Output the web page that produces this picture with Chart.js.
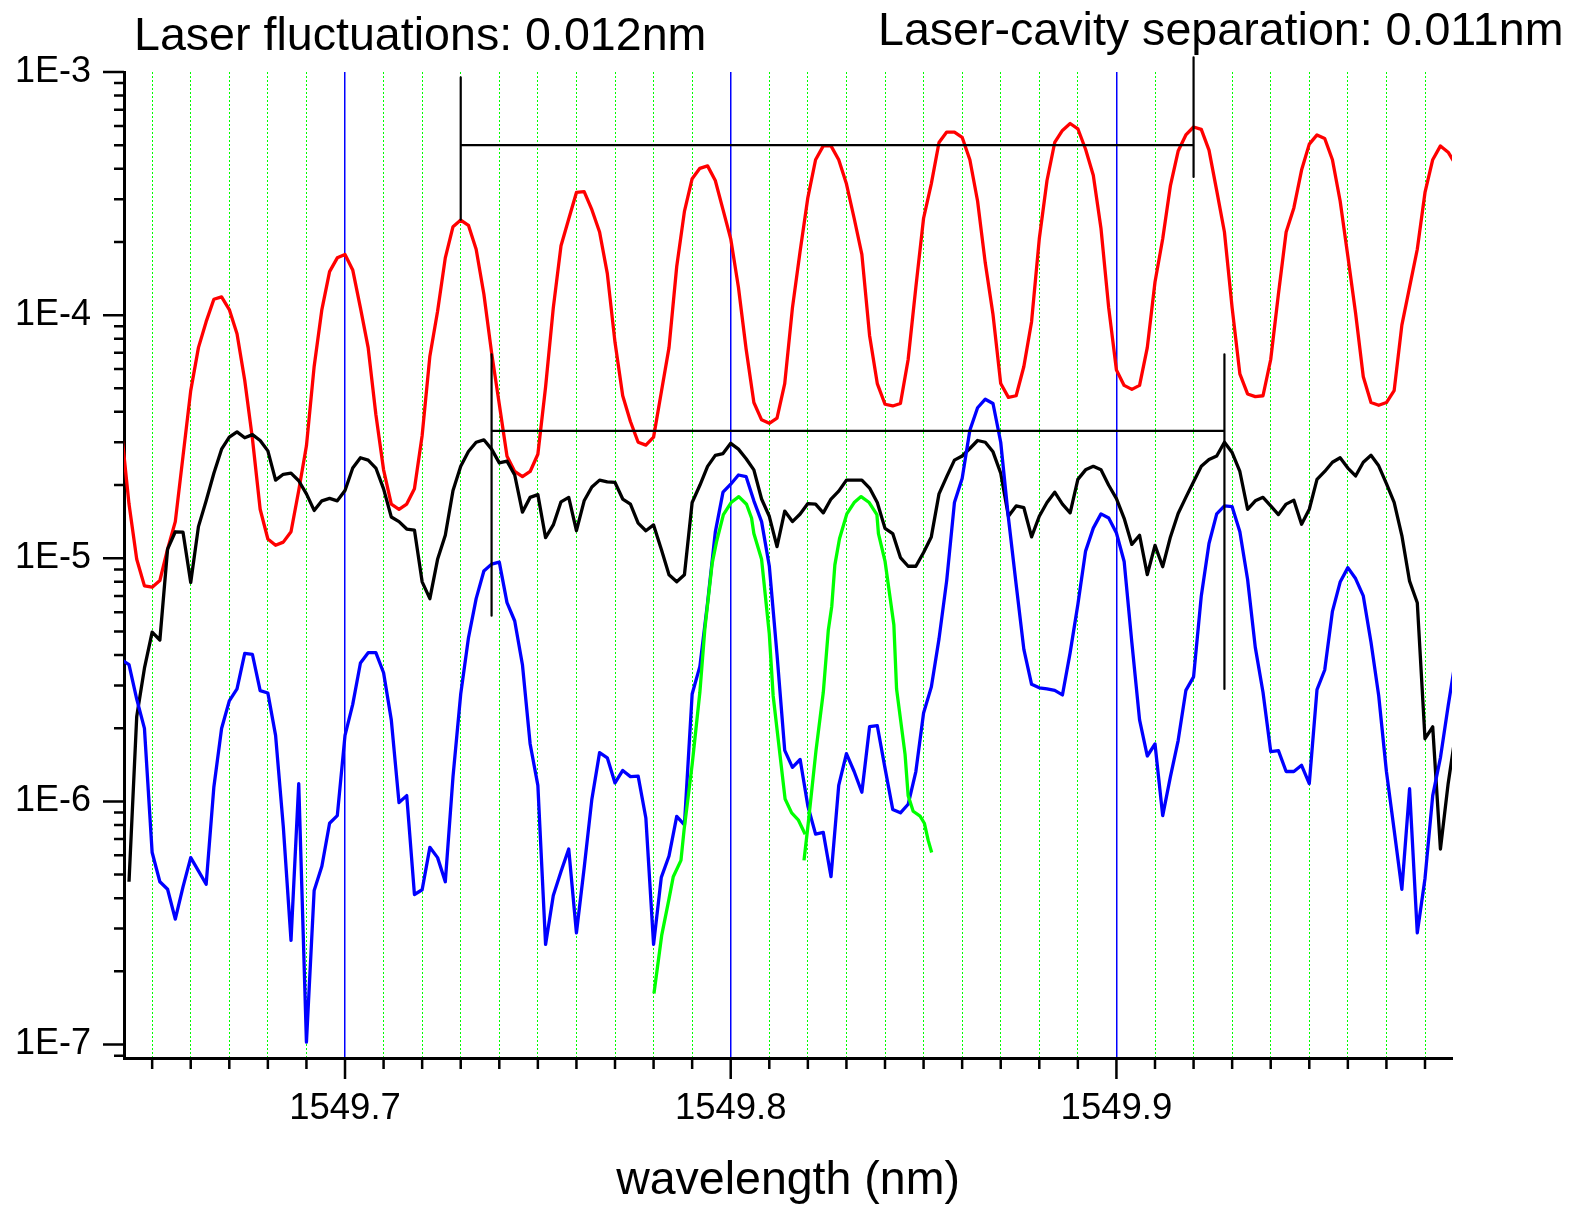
<!DOCTYPE html>
<html>
<head>
<meta charset="utf-8">
<script src="https://cdn.jsdelivr.net/npm/chart.js@4.4.1/dist/chart.umd.min.js"></script>
<style>
      html, body { margin: 0; padding: 0; background: #ffffff; }
      #wrap { width: 1573px; height: 1206px; position: relative; }
</style>
</head>
<body>
<div id="wrap"><canvas id="spectrum"></canvas></div>
<script>
// wavelength grid shared by the red, black and blue traces (nm)
let wavelength = [
      1549.642, 1549.644, 1549.646, 1549.648, 1549.650, 1549.652, 1549.654, 1549.656, 1549.658, 1549.660,
      1549.662, 1549.664, 1549.666, 1549.668, 1549.670, 1549.672, 1549.674, 1549.676, 1549.678, 1549.680,
      1549.682, 1549.684, 1549.686, 1549.688, 1549.690, 1549.692, 1549.694, 1549.696, 1549.698, 1549.700,
      1549.702, 1549.704, 1549.706, 1549.708, 1549.710, 1549.712, 1549.714, 1549.716, 1549.718, 1549.720,
      1549.722, 1549.724, 1549.726, 1549.728, 1549.730, 1549.732, 1549.734, 1549.736, 1549.738, 1549.740,
      1549.742, 1549.744, 1549.746, 1549.748, 1549.750, 1549.752, 1549.754, 1549.756, 1549.758, 1549.760,
      1549.762, 1549.764, 1549.766, 1549.768, 1549.770, 1549.772, 1549.774, 1549.776, 1549.778, 1549.780,
      1549.782, 1549.784, 1549.786, 1549.788, 1549.790, 1549.792, 1549.794, 1549.796, 1549.798, 1549.800,
      1549.802, 1549.804, 1549.806, 1549.808, 1549.810, 1549.812, 1549.814, 1549.816, 1549.818, 1549.820,
      1549.822, 1549.824, 1549.826, 1549.828, 1549.830, 1549.832, 1549.834, 1549.836, 1549.838, 1549.840,
      1549.842, 1549.844, 1549.846, 1549.848, 1549.850, 1549.852, 1549.854, 1549.856, 1549.858, 1549.860,
      1549.862, 1549.864, 1549.866, 1549.868, 1549.870, 1549.872, 1549.874, 1549.876, 1549.878, 1549.880,
      1549.882, 1549.884, 1549.886, 1549.888, 1549.890, 1549.892, 1549.894, 1549.896, 1549.898, 1549.900,
      1549.902, 1549.904, 1549.906, 1549.908, 1549.910, 1549.912, 1549.914, 1549.916, 1549.918, 1549.920,
      1549.922, 1549.924, 1549.926, 1549.928, 1549.930, 1549.932, 1549.934, 1549.936, 1549.938, 1549.940,
      1549.942, 1549.944, 1549.946, 1549.948, 1549.950, 1549.952, 1549.954, 1549.956, 1549.958, 1549.960,
      1549.962, 1549.964, 1549.966, 1549.968, 1549.970, 1549.972, 1549.974, 1549.976, 1549.978, 1549.980,
      1549.982, 1549.984, 1549.986, 1549.988
];

let redTrace = [
      3.40e-5, 1.67e-5, 9.9e-6, 7.7e-6, 7.6e-6, 8.1e-6, 1.09e-5, 1.415e-5, 2.63e-5, 4.89e-5,
      7.35e-5, 9.4e-5, 1.162e-4, 1.189e-4, 1.054e-4, 8.39e-5, 5.40e-5, 3.10e-5, 1.59e-5, 1.20e-5,
      1.13e-5, 1.165e-5, 1.285e-5, 1.90e-5, 2.90e-5, 6.15e-5, 1.054e-4, 1.51e-4, 1.72e-4, 1.777e-4,
      1.534e-4, 1.071e-4, 7.35e-5, 3.90e-5, 2.31e-5, 1.67e-5, 1.59e-5, 1.67e-5, 1.93e-5, 3.20e-5,
      6.78e-5, 1.037e-4, 1.72e-4, 2.31e-4, 2.46e-4, 2.34e-4, 1.866e-4, 1.221e-4, 7.01e-5, 4.30e-5,
      2.63e-5, 2.275e-5, 2.165e-5, 2.275e-5, 2.677e-5, 5.06e-5, 1.071e-4, 1.928e-4, 2.486e-4, 3.196e-4,
      3.218e-4, 2.715e-4, 2.197e-4, 1.485e-4, 7.73e-5, 4.66e-5, 3.65e-5, 3.00e-5, 2.92e-5, 3.15e-5,
      4.82e-5, 7.35e-5, 1.585e-4, 2.671e-4, 3.64e-4, 4.015e-4, 4.11e-4, 3.58e-4, 2.715e-4, 2.06e-4,
      1.303e-4, 7.24e-5, 4.37e-5, 3.71e-5, 3.59e-5, 3.77e-5, 5.23e-5, 1.071e-4, 1.835e-4, 3.045e-4,
      4.357e-4, 4.966e-4, 4.966e-4, 4.357e-4, 3.467e-4, 2.503e-4, 1.777e-4, 8.25e-5, 5.23e-5, 4.30e-5,
      4.23e-5, 4.33e-5, 6.57e-5, 1.303e-4, 2.503e-4, 3.467e-4, 5.13e-4, 5.66e-4, 5.66e-4, 5.39e-4,
      4.357e-4, 2.947e-4, 1.637e-4, 1.005e-4, 5.23e-5, 4.59e-5, 4.66e-5, 6.15e-5, 9.4e-5, 2.06e-4,
      3.58e-4, 5.13e-4, 5.75e-4, 6.14e-4, 5.84e-4, 4.81e-4, 3.76e-4, 2.27e-4, 1.071e-4, 5.95e-5,
      5.14e-5, 4.95e-5, 5.14e-5, 7.35e-5, 1.368e-4, 2.06e-4, 3.41e-4, 4.73e-4, 5.51e-4, 5.94e-4,
      5.81e-4, 4.77e-4, 3.25e-4, 2.197e-4, 1.071e-4, 5.73e-5, 4.74e-5, 4.62e-5, 4.66e-5, 6.57e-5,
      1.221e-4, 2.197e-4, 2.76e-4, 3.95e-4, 5.05e-4, 5.51e-4, 5.33e-4, 4.357e-4, 2.947e-4, 1.748e-4,
      1.020e-4, 5.58e-5, 4.37e-5, 4.26e-5, 4.37e-5, 4.89e-5, 9.1e-5, 1.303e-4, 1.866e-4, 3.196e-4,
      4.357e-4, 4.966e-4, 4.68e-4, 4.15e-4
];

let blackTrace = [
      null, 4.67e-7, 2.236e-6, 3.53e-6, 4.97e-6, 4.61e-6, 1.09e-5, 1.285e-5, 1.28e-5, 7.95e-6,
      1.349e-5, 1.723e-5, 2.238e-5, 2.81e-5, 3.15e-5, 3.31e-5, 3.13e-5, 3.225e-5, 3.05e-5, 2.765e-5,
      2.096e-5, 2.215e-5, 2.238e-5, 2.083e-5, 1.84e-5, 1.573e-5, 1.723e-5, 1.763e-5, 1.723e-5, 1.90e-5,
      2.35e-5, 2.59e-5, 2.533e-5, 2.35e-5, 1.93e-5, 1.478e-5, 1.415e-5, 1.319e-5, 1.306e-5, 8.0e-6,
      6.82e-6, 9.9e-6, 1.243e-5, 1.90e-5, 2.388e-5, 2.75e-5, 3.0e-5, 3.07e-5, 2.81e-5, 2.467e-5,
      2.508e-5, 2.2e-5, 1.548e-5, 1.78e-5, 1.827e-5, 1.215e-5, 1.371e-5, 1.706e-5, 1.78e-5, 1.298e-5,
      1.723e-5, 1.964e-5, 2.096e-5, 2.062e-5, 2.05e-5, 1.752e-5, 1.67e-5, 1.394e-5, 1.298e-5, 1.371e-5,
      1.09e-5, 8.55e-6, 8.0e-6, 8.55e-6, 1.696e-5, 1.996e-5, 2.388e-5, 2.65e-5, 2.695e-5, 2.97e-5,
      2.81e-5, 2.567e-5, 2.31e-5, 1.752e-5, 1.488e-5, 1.116e-5, 1.563e-5, 1.415e-5, 1.52e-5, 1.679e-5,
      1.67e-5, 1.537e-5, 1.752e-5, 1.888e-5, 2.096e-5, 2.096e-5, 2.096e-5, 1.944e-5, 1.696e-5, 1.327e-5,
      1.264e-5, 1.006e-5, 9.27e-6, 9.27e-6, 1.056e-5, 1.224e-5, 1.84e-5, 2.165e-5, 2.533e-5, 2.634e-5,
      2.828e-5, 3.05e-5, 3.0e-5, 2.74e-5, 2.238e-5, 1.488e-5, 1.641e-5, 1.614e-5, 1.224e-5, 1.488e-5,
      1.696e-5, 1.87e-5, 1.67e-5, 1.537e-5, 2.11e-5, 2.31e-5, 2.388e-5, 2.31e-5, 1.996e-5, 1.76e-5,
      1.46e-5, 1.14e-5, 1.243e-5, 8.56e-6, 1.13e-5, 9.23e-6, 1.224e-5, 1.529e-5, 1.78e-5, 2.062e-5,
      2.388e-5, 2.55e-5, 2.634e-5, 3.0e-5, 2.72e-5, 2.275e-5, 1.59e-5, 1.723e-5, 1.78e-5, 1.641e-5,
      1.513e-5, 1.67e-5, 1.734e-5, 1.38e-5, 1.59e-5, 2.11e-5, 2.275e-5, 2.483e-5, 2.59e-5, 2.35e-5,
      2.18e-5, 2.483e-5, 2.65e-5, 2.40e-5, 2.029e-5, 1.696e-5, 1.24e-5, 8.05e-6, 6.56e-6, 1.81e-6,
      2.027e-6, 6.37e-7, 1.183e-6, 1.93e-6
];

let blueTrace = [
      3.83e-6, 3.65e-6, 2.633e-6, 1.995e-6, 6.16e-7, 4.67e-7, 4.35e-7, 3.28e-7, 4.45e-7, 5.87e-7,
      5.18e-7, 4.56e-7, 1.146e-6, 1.995e-6, 2.59e-6, 2.90e-6, 4.06e-6, 4.02e-6, 2.855e-6, 2.79e-6,
      1.868e-6, 7.87e-7, 2.68e-7, 1.183e-6, 1.022e-7, 4.30e-7, 5.41e-7, 8.13e-7, 8.74e-7, 1.868e-6,
      2.506e-6, 3.71e-6, 4.09e-6, 4.09e-6, 3.38e-6, 2.164e-6, 9.89e-7, 1.056e-6, 4.14e-7, 4.33e-7,
      6.47e-7, 5.87e-7, 4.67e-7, 1.263e-6, 2.764e-6, 4.7e-6, 6.82e-6, 8.86e-6, 9.46e-6, 9.64e-6,
      6.57e-6, 5.52e-6, 3.65e-6, 1.722e-6, 1.164e-6, 2.58e-7, 4.10e-7, 5.15e-7, 6.37e-7, 2.88e-7,
      5.32e-7, 1.021e-6, 1.587e-6, 1.511e-6, 1.191e-6, 1.34e-6, 1.264e-6, 1.27e-6, 8.54e-7, 2.58e-7,
      4.87e-7, 5.96e-7, 8.68e-7, 8.0e-7, 2.764e-6, 3.59e-6, 6.57e-6, 1.28e-5, 1.87e-5, 2.016e-5,
      2.2e-5, 2.165e-5, 1.723e-5, 1.415e-5, 9.3e-6, 4.02e-6, 1.62e-6, 1.38e-6, 1.487e-6, 9.57e-7,
      7.33e-7, 7.45e-7, 4.90e-7, 1.164e-6, 1.572e-6, 1.327e-6, 1.09e-6, 2.028e-6, 2.048e-6, 1.37e-6,
      9.27e-7, 8.97e-7, 9.73e-7, 1.327e-6, 2.31e-6, 2.95e-6, 4.66e-6, 8.11e-6, 1.694e-5, 2.13e-5,
      3.36e-5, 4.16e-5, 4.51e-5, 4.33e-5, 3.0e-5, 1.464e-5, 7.8e-6, 4.22e-6, 3.03e-6, 2.93e-6,
      2.90e-6, 2.86e-6, 2.74e-6, 4.09e-6, 6.46e-6, 1.07e-5, 1.33e-5, 1.522e-5, 1.464e-5, 1.27e-5,
      9.7e-6, 4.5e-6, 2.164e-6, 1.537e-6, 1.722e-6, 8.74e-7, 1.264e-6, 1.779e-6, 2.86e-6, 3.25e-6,
      7.0e-6, 1.15e-5, 1.522e-5, 1.641e-5, 1.63e-5, 1.285e-5, 8.2e-6, 4.30e-6, 2.81e-6, 1.603e-6,
      1.618e-6, 1.327e-6, 1.327e-6, 1.407e-6, 1.183e-6, 2.884e-6, 3.47e-6, 6.05e-6, 7.98e-6, 9.15e-6,
      8.25e-6, 7.0e-6, 4.51e-6, 2.72e-6, 1.327e-6, 7.62e-7, 4.35e-7, 1.127e-6, 2.88e-7, 4.82e-7,
      1.056e-6, 1.511e-6, 2.466e-6, 3.91e-6
];

// the two short green scans have their own wavelengths
let greenWavelengthA = [
      1549.7801, 1549.7821, 1549.7840, 1549.7851, 1549.7871, 1549.7879, 1549.7900, 1549.7920,
      1549.7933, 1549.7952, 1549.7963, 1549.7981, 1549.8001, 1549.8021, 1549.8041, 1549.8054,
      1549.8060, 1549.8080, 1549.8100, 1549.8110, 1549.8141, 1549.8158, 1549.8175, 1549.8193
];
let greenTraceA = [
      1.62e-7, 2.81e-7, 3.97e-7, 4.90e-7, 5.72e-7, 7.62e-7, 1.416e-6, 2.81e-6,
      5.14e-6, 9.55e-6, 1.165e-5, 1.513e-5, 1.695e-5, 1.793e-5, 1.668e-5, 1.464e-5,
      1.264e-5, 9.9e-6, 4.89e-6, 2.72e-6, 1.022e-6, 8.97e-7, 8.4e-7, 7.33e-7
];
let greenWavelengthB = [
      1549.8190, 1549.8201, 1549.8221, 1549.8240, 1549.8253, 1549.8262, 1549.8270, 1549.8282,
      1549.8301, 1549.8320, 1549.8338, 1549.8359, 1549.8379, 1549.8383, 1549.8400, 1549.8423,
      1549.8430, 1549.8452, 1549.8460, 1549.8473, 1549.8491, 1549.8502, 1549.8512, 1549.8521
];
let greenTraceB = [
      5.72e-7, 8.13e-7, 1.613e-6, 2.81e-6, 5.06e-6, 6.35e-6, 9.39e-6, 1.203e-5,
      1.522e-5, 1.695e-5, 1.793e-5, 1.695e-5, 1.513e-5, 1.264e-5, 9.74e-6, 5.31e-6,
      2.9e-6, 1.561e-6, 1.056e-6, 9.11e-7, 8.69e-7, 8.13e-7, 6.91e-7, 6.16e-7
];

// brackets: post positions (nm), bar level, and the vertical extent of each post
let fluctPosts = [1549.730, 1549.920];
let fluctBar = 5.0e-4;
let fluctLeftPost = [9.5e-4, 2.47e-4];
let fluctRightPost = [1.15e-3, 3.7e-4];
let sepPosts = [1549.738, 1549.928];
let sepBar = 3.34e-5;
let sepLeftPost = [6.9e-5, 5.8e-6];
let sepRightPost = [6.9e-5, 2.9e-6];

let fluctNote = "Laser fluctuations: 0.012nm";
let sepNote = "Laser-cavity separation: 0.011nm";

let xMajorTicks = [1549.7, 1549.8, 1549.9];
let xTickLabels = ["1549.7", "1549.8", "1549.9"];
let yMajorTicks = [1e-7, 1e-6, 1e-5, 1e-4, 1e-3];
let yTickLabels = ["1E-7", "1E-6", "1E-5", "1E-4", "1E-3"];

let fontFamily = '"Liberation Sans", Arial, sans-serif';
Chart.defaults.font.family = fontFamily;
Chart.defaults.color = "#000";

let xMin = 1549.6427, xMax = 1549.987;
let yMin = 8.8e-8, yMax = 1e-3;

let majorIndexX = (v) => xMajorTicks.findIndex((m) => Math.abs(m - v) < 1e-6);
let majorIndexY = (v) => yMajorTicks.findIndex((m) => Math.abs(m - v) / m < 1e-6);

// every 0.01 nm gets a tick / grid line
let xTickValues = [];
for (let i = 0; i < 34; i++) {
      xTickValues.push(Math.round((1549.65 + i * 0.01) * 100) / 100);
}
// log ticks 1..9 per decade
let yTickValues = [];
[1e-8, 1e-7, 1e-6, 1e-5, 1e-4].forEach((d) => {
      for (let m = 1; m <= 9; m++) {
            let v = m * d;
            if (v >= yMin && v <= yMax * 1.0001) yTickValues.push(v);
      }
});
yTickValues.push(1e-3);

let series = (xs, ys) => xs.map((x, i) => ({x: x, y: ys[i]}));

let bracket = (posts, bar, left, right) => [
      {x: posts[0], y: left[0]}, {x: posts[0], y: left[1]}, {x: posts[0], y: null},
      {x: posts[0], y: bar}, {x: posts[1], y: bar}, {x: posts[1], y: null},
      {x: posts[1], y: right[0]}, {x: posts[1], y: right[1]}
];

let traceStyle = (color, order) => ({
      borderColor: color,
      borderWidth: 3.3,
      pointRadius: 0,
      tension: 0,
      borderJoinStyle: "round",
      fill: false,
      order: order
});

// tick marks of two lengths plus the two notes above the plot
let axisMarks = {
      id: "axisMarks",
      afterDraw: (chart) => {
            let ctx = chart.ctx;
            let area = chart.chartArea;
            let xs = chart.scales.x, ys = chart.scales.y;
            ctx.save();
            ctx.strokeStyle = "#000";
            ctx.lineWidth = 2.5;
            ctx.beginPath();
            xs.ticks.forEach((t) => {
                  let px = xs.getPixelForValue(t.value);
                  let len = majorIndexX(t.value) >= 0 ? 21 : 11;
                  ctx.moveTo(px, area.bottom);
                  ctx.lineTo(px, area.bottom + len);
            });
            ys.ticks.forEach((t) => {
                  let py = ys.getPixelForValue(t.value);
                  let len = majorIndexY(t.value) >= 0 ? 21 : 10;
                  ctx.moveTo(area.left, py);
                  ctx.lineTo(area.left - len, py);
            });
            ctx.stroke();
            ctx.fillStyle = "#000";
            ctx.font = "46.6px " + fontFamily;
            ctx.textAlign = "left";
            ctx.textBaseline = "alphabetic";
            ctx.fillText(fluctNote, 134, 49.5);
            ctx.fillText(sepNote, 878, 45);
            ctx.restore();
      }
};

let ctx = document.getElementById("spectrum").getContext("2d");
new Chart(ctx, {
      type: "line",
      data: {
            datasets: [
                  Object.assign({data: bracket(fluctPosts, fluctBar, fluctLeftPost, fluctRightPost), clip: false, spanGaps: false}, traceStyle("#000", 0), {borderWidth: 2.2}),
                  Object.assign({data: bracket(sepPosts, sepBar, sepLeftPost, sepRightPost), clip: false, spanGaps: false}, traceStyle("#000", 0), {borderWidth: 2.2}),
                  Object.assign({data: series(greenWavelengthA, greenTraceA)}, traceStyle("#00ff00", 1)),
                  Object.assign({data: series(greenWavelengthB, greenTraceB)}, traceStyle("#00ff00", 1)),
                  Object.assign({data: series(wavelength, blueTrace)}, traceStyle("#0000ff", 2)),
                  Object.assign({data: series(wavelength, blackTrace)}, traceStyle("#000000", 3)),
                  Object.assign({data: series(wavelength, redTrace)}, traceStyle("#ff0000", 4))
            ]
      },
      options: {
            animation: false,
            responsive: true,
            maintainAspectRatio: false,
            layout: {padding: {top: 72, right: 121, bottom: 0, left: 0}},
            plugins: {legend: {display: false}, tooltip: {enabled: false}},
            scales: {
                  x: {
                        type: "linear",
                        min: xMin,
                        max: xMax,
                        bounds: "data",
                        afterBuildTicks: (axis) => {
                              axis.ticks = xTickValues.map((v) => ({value: v}));
                        },
                        afterFit: (axis) => { axis.height = 148; },
                        ticks: {
                              autoSkip: false,
                              maxRotation: 0,
                              padding: 29,
                              font: {size: 36.5},
                              color: "#000",
                              callback: (v) => {
                                    let i = majorIndexX(v);
                                    return i >= 0 ? xTickLabels[i] : "";
                              }
                        },
                        grid: {
                              drawTicks: false,
                              color: (c) => (c.tick && majorIndexX(c.tick.value) >= 0) ? "#0000ff" : "#00ff00",
                              lineWidth: (c) => (c.tick && majorIndexX(c.tick.value) >= 0) ? 1.5 : 1
                        },
                        border: {
                              display: true,
                              color: "#000",
                              width: 3,
                              dash: (c) => (c.tick && majorIndexX(c.tick.value) < 0) ? [2, 2] : []
                        },
                        title: {
                              display: true,
                              text: "wavelength (nm)",
                              font: {size: 46.5},
                              color: "#000",
                              padding: {top: 0, bottom: -3}
                        }
                  },
                  y: {
                        type: "logarithmic",
                        min: yMin,
                        max: yMax,
                        bounds: "data",
                        afterBuildTicks: (axis) => {
                              axis.ticks = yTickValues.map((v) => ({value: v}));
                        },
                        afterFit: (axis) => { axis.width = 124; },
                        ticks: {
                              autoSkip: false,
                              padding: 33,
                              font: {size: 36},
                              color: "#000",
                              callback: (v) => {
                                    let i = majorIndexY(v);
                                    return i >= 0 ? yTickLabels[i] : "";
                              }
                        },
                        grid: {display: false, drawTicks: false},
                        border: {display: true, color: "#000", width: 3}
                  }
            }
      },
      plugins: [axisMarks]
});
</script>
</body>
</html>
